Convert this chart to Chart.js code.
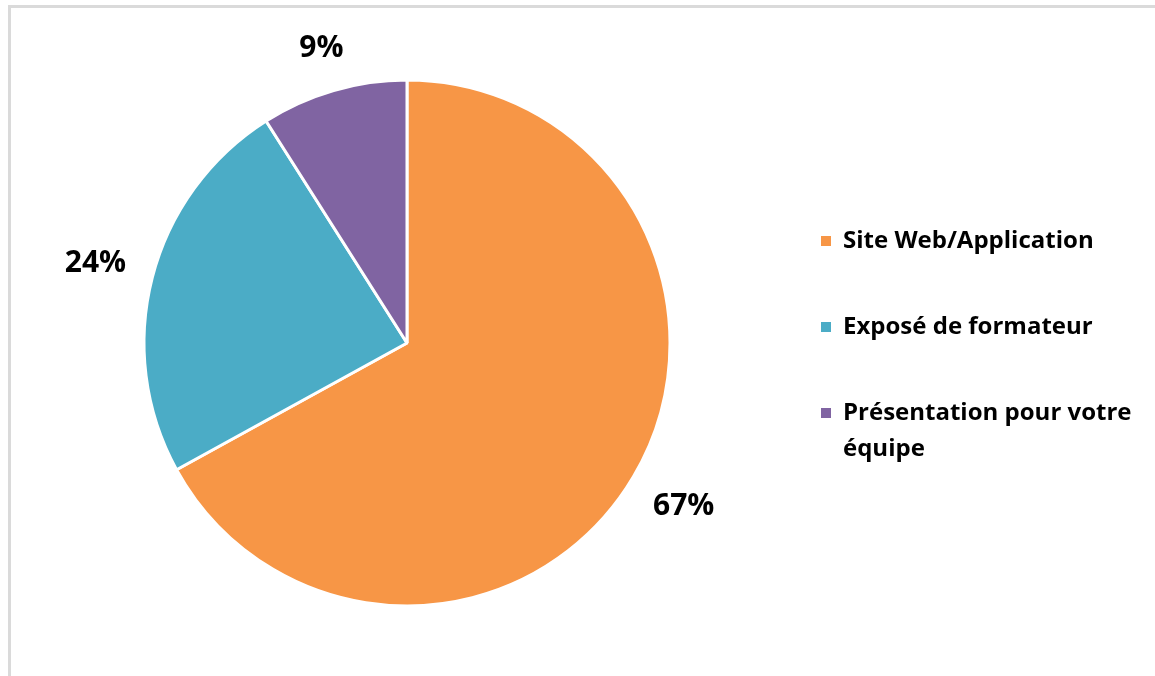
<!DOCTYPE html>
<html>
<head>
<meta charset="utf-8">
<script src="https://cdn.jsdelivr.net/npm/chart.js@4"></script>
<style>
  html, body { margin: 0; padding: 0; background: #fff; overflow: hidden; }
  #wrap { position: absolute; left: 0; top: 0; width: 1155px; height: 676px; }
  #frame { position: absolute; left: 8px; top: 5px; width: 1200px; height: 700px;
           border-left: 3px solid #dadada; border-top: 3px solid #dadada; box-sizing: border-box; }
  canvas { position: absolute; left: 0; top: 0; }
</style>
</head>
<body>
<div id="wrap">
  <div id="frame"></div>
  <canvas id="c" width="1155" height="676"></canvas>
</div>
<script>
// Répartition des supports utilisés (%)
const categories = ['Site Web/Application', 'Exposé de formateur', 'Présentation pour votre équipe'];
const values = [67, 24, 9];
const colors = ['#F79646', '#4BACC6', '#8064A2'];

const FONT = '"Open Sans", Lato, sans-serif';

// Percent labels placed outside each slice: the label box sits a fixed gap
// beyond the rim, along the slice's mid angle
const outsideLabels = {
  id: 'outsideLabels',
  afterDatasetsDraw(chart) {
    const ctx = chart.ctx;
    const meta = chart.getDatasetMeta(0);
    const gap = 26, boxH = 24;
    ctx.save();
    ctx.font = 'bold 30px ' + FONT;
    ctx.fillStyle = '#000';
    ctx.textAlign = 'center';
    ctx.textBaseline = 'middle';
    meta.data.forEach((arc, i) => {
      const p = arc.getProps(['x', 'y', 'startAngle', 'endAngle', 'outerRadius'], true);
      const mid = (p.startAngle + p.endAngle) / 2;
      const text = values[i] + '%';
      const w = ctx.measureText(text).width;
      const c = Math.cos(mid), s = Math.sin(mid);
      const half = Math.abs(c) * w / 2 + Math.abs(s) * boxH / 2;
      const r = p.outerRadius + gap + half;
      ctx.fillText(text, p.x + c * r, p.y + s * r);
    });
    ctx.restore();
  }
};

// Legend on the right, with wrapping for long entries
const sideLegend = {
  id: 'sideLegend',
  afterDraw(chart) {
    const ctx = chart.ctx;
    const x0 = 821, textX = 843, maxW = 305;
    const firstBaseline = 248, itemGap = 86, lineGap = 36;
    ctx.save();
    ctx.font = 'bold 24px ' + FONT;
    ctx.textAlign = 'left';
    ctx.textBaseline = 'alphabetic';
    categories.forEach((label, i) => {
      const y = firstBaseline + i * itemGap;
      ctx.fillStyle = colors[i];
      ctx.fillRect(x0, y - 12, 10, 10);
      ctx.fillStyle = '#000';
      const words = label.split(' ');
      const lines = [];
      let line = '';
      words.forEach(w => {
        const test = line ? line + ' ' + w : w;
        if (ctx.measureText(test).width > maxW && line) { lines.push(line); line = w; }
        else line = test;
      });
      lines.push(line);
      lines.forEach((l, k) => ctx.fillText(l, textX, y + k * lineGap));
    });
    ctx.restore();
  }
};

new Chart(document.getElementById('c'), {
  type: 'pie',
  data: {
    labels: categories,
    datasets: [{
      data: values,
      backgroundColor: colors,
      borderColor: '#ffffff',
      borderWidth: 3,
      radius: 263
    }]
  },
  options: {
    responsive: false,
    animation: false,
    layout: { padding: { left: 0, right: 341, top: 10, bottom: 0 } },
    plugins: { legend: { display: false }, tooltip: { enabled: false } }
  },
  plugins: [outsideLabels, sideLegend]
});
</script>
</body>
</html>
